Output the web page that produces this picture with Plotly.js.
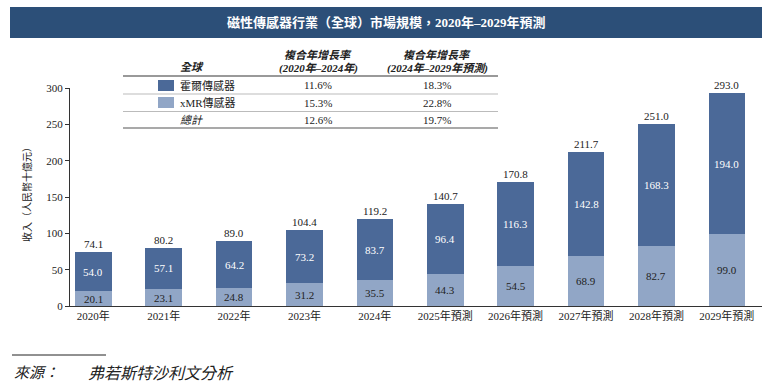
<!DOCTYPE html>
<html><head><meta charset="utf-8">
<script src="https://cdn.plot.ly/plotly-3.0.1.min.js"></script>
<style>body{margin:0;background:#fff}#c{width:768px;height:390px}</style></head>
<body><div id="c"></div>
<script>
const years=['2020年','2021年','2022年','2023年','2024年','2025年預測','2026年預測','2027年預測','2028年預測','2029年預測'];
const xmr=[20.1,23.1,24.8,31.2,35.5,44.3,54.5,68.9,82.7,99.0];
const hall=[54.0,57.1,64.2,73.2,83.7,96.4,116.3,142.8,168.3,194.0];
const totals=[74.1,80.2,89.0,104.4,119.2,140.7,170.8,211.7,251.0,293.0];
const tableRows=['霍爾傳感器','xMR傳感器','總計'];
const cagr2020_2024=['11.6%','15.3%','12.6%'];
const cagr2024_2029=['18.3%','22.8%','19.7%'];
const titleText='磁性傳感器行業（全球）市場規模，2020年–2029年預測';
const yTitle='收入（人民幣十億元）';
const sourceLabel='來源：';
const sourceText='弗若斯特沙利文分析';

const W=768,H=390,L=70,R=762,T=88,B=306;
const fx=x=>x/W, fy=y=>1-y/H;
const FF="'Liberation Serif','Noto Sans CJK TC',serif";
const DARK='#4b6998', LIGHT='#91a6c6', BAR='#2c4f78';

const fmt=v=>v.toFixed(1);
const traces=[
 {type:'bar',x:years,y:xmr,marker:{color:LIGHT},name:'xMR傳感器',hoverinfo:'none'},
 {type:'bar',x:years,y:hall,marker:{color:DARK},name:'霍爾傳感器',hoverinfo:'none'}
];
const ann=[];
years.forEach((c,i)=>{
  ann.push({x:c,y:xmr[i]/2,xref:'x',yref:'y',text:fmt(xmr[i]),showarrow:false,xanchor:'center',yanchor:'middle',font:{family:FF,size:11,color:'#222'}});
  ann.push({x:c,y:xmr[i]+hall[i]/2,xref:'x',yref:'y',text:fmt(hall[i]),showarrow:false,xanchor:'center',yanchor:'middle',font:{family:FF,size:11,color:'#fff'}});
  ann.push({x:c,y:totals[i],xref:'x',yref:'y',text:fmt(totals[i]),showarrow:false,xanchor:'center',yanchor:'bottom',yshift:0,font:{family:FF,size:11,color:'#222'}});
});
const P=(x,y,text,o)=>Object.assign({xref:'paper',yref:'paper',x:fx(x),y:fy(y),text,showarrow:false,xanchor:'center',yanchor:'middle',font:{family:FF,size:11,color:'#222'}},o||{});
ann.push(P(386,22,'<b>'+titleText+'</b>',{font:{family:FF,size:13,color:'#fff'}}));
ann.push(P(27,192,yTitle,{textangle:-90,font:{family:FF,size:10,color:'#222'}}));
ann.push(P(192,67,'<b><i>全球</i></b>'));
ann.push(P(318,55,'<b><i>複合年增長率</i></b>'));
ann.push(P(318,68,'<b><i>(2020年–2024年)</i></b>'));
ann.push(P(437,55,'<b><i>複合年增長率</i></b>'));
ann.push(P(437,68,'<b><i>(2024年–2029年預測)</i></b>'));
const rowY=[85,103,120];
tableRows.forEach((r,i)=>{
  ann.push(P(178,rowY[i],i===2?'<i>'+r+'</i>':r,{xanchor:'left'}));
  ann.push(P(318,rowY[i],cagr2020_2024[i]));
  ann.push(P(437,rowY[i],cagr2024_2029[i]));
});
ann.push(P(12,373,'<i>'+sourceLabel+'</i>',{xanchor:'left',font:{family:FF,size:15,color:'#222'}}));
ann.push(P(86,373,'<i>'+sourceText+'</i>',{xanchor:'left',font:{family:FF,size:16,color:'#222'}}));

const S=(x0,y0,x1,y1,o)=>Object.assign({type:'rect',xref:'paper',yref:'paper',x0:fx(x0),x1:fx(x1),y0:fy(y0),y1:fy(y1),line:{width:0}},o);
const Ln=(x0,y,x1,color,w)=>({type:'line',xref:'paper',yref:'paper',x0:fx(x0),x1:fx(x1),y0:fy(y),y1:fy(y),line:{color,width:w}});
const shapes=[
 S(10,7,762,38,{fillcolor:BAR}),
 Ln(123,76,498,'#777',1.5),
 Ln(123,94,498,'#aaa',0.8),
 Ln(123,111.5,498,'#aaa',0.8),
 Ln(123,128,498,'#555',1.2),
 S(158,80,174,91,{fillcolor:DARK}),
 S(158,97,174,108,{fillcolor:LIGHT}),
 Ln(12,355,106,'#222',1)
];

const layout={
 width:W,height:H,margin:{l:0,r:0,t:0,b:0,pad:0},
 barmode:'stack',bargap:0.48,showlegend:false,
 paper_bgcolor:'#fff',plot_bgcolor:'#fff',
 font:{family:FF,size:11,color:'#222'},
 xaxis:{type:'category',domain:[L/W,R/W],range:[-0.33,9.5],automargin:false,showline:true,linecolor:'#333',linewidth:1,ticks:'',showgrid:false,zeroline:false,tickfont:{family:FF,size:11,color:'#222'}},
 yaxis:{range:[0,300],domain:[1-B/H,1-T/H],automargin:false,dtick:50,showline:true,linecolor:'#333',linewidth:1,ticks:'outside',ticklen:4,tickcolor:'#333',showgrid:false,zeroline:false,tickfont:{family:FF,size:11,color:'#222'}},
 annotations:ann,shapes:shapes
};
Plotly.newPlot('c',traces,layout,{displayModeBar:false,staticPlot:true});
</script></body></html>
